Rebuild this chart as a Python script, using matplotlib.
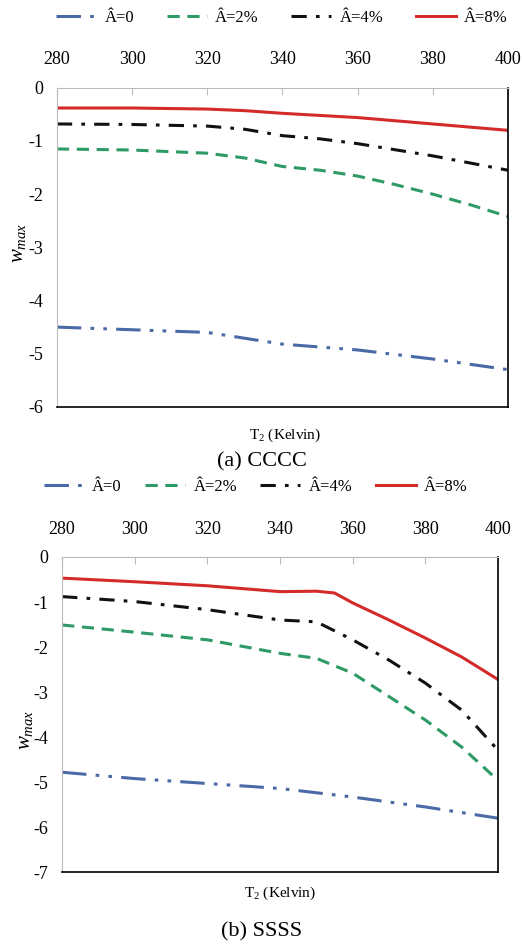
import numpy as np
import matplotlib
matplotlib.use("Agg")
import matplotlib.pyplot as plt

plt.rcParams['font.family'] = ['Liberation Serif', 'DejaVu Serif']
plt.rcParams['axes.unicode_minus'] = False
plt.rcParams['mathtext.fontset'] = 'custom'
plt.rcParams['mathtext.it'] = 'Liberation Serif:italic'
plt.rcParams['mathtext.rm'] = 'Liberation Serif'

labels = ["Â=0", "Â=2%", "Â=4%", "Â=8%"]

# (a) CCCC
a_T0 = [280, 300, 320, 340, 360, 380, 400]
a_w0 = [-4.50, -4.55, -4.60, -4.82, -4.93, -5.10, -5.30]
a_T2 = [280, 300, 320, 330, 340, 350, 360, 370, 380, 390, 400]
a_w2 = [-1.15, -1.17, -1.23, -1.32, -1.48, -1.55, -1.66, -1.82, -2.00, -2.20, -2.42]
a_T4 = [280, 300, 320, 330, 340, 350, 360, 380, 400]
a_w4 = [-0.68, -0.69, -0.72, -0.78, -0.90, -0.96, -1.05, -1.28, -1.55]
a_T8 = [280, 300, 320, 330, 340, 360, 380, 400]
a_w8 = [-0.38, -0.38, -0.40, -0.43, -0.48, -0.56, -0.68, -0.80]

# (b) SSSS
b_T0 = [280, 300, 320, 340, 360, 380, 400]
b_w0 = [-4.78, -4.92, -5.03, -5.14, -5.33, -5.55, -5.80]
b_T2 = [280, 300, 320, 340, 350, 360, 370, 380, 390, 400]
b_w2 = [-1.51, -1.67, -1.84, -2.14, -2.25, -2.58, -3.10, -3.62, -4.22, -4.96]
b_T4 = [280, 300, 320, 340, 350, 360, 370, 380, 390, 400]
b_w4 = [-0.88, -0.99, -1.17, -1.40, -1.44, -1.84, -2.29, -2.80, -3.40, -4.29]
b_T8 = [280, 300, 320, 340, 350, 355, 360, 370, 380, 390, 400]
b_w8 = [-0.47, -0.55, -0.64, -0.77, -0.76, -0.80, -1.02, -1.40, -1.80, -2.22, -2.72]

colors = ["#4a6aa5", "#2e9a66", "#111111", "#d42a2a"]
styles = [(0, (8, 3, 1.2, 3, 1.2, 3)), (0, (4, 2.5)), (0, (5, 3, 1.2, 3)), "-"]

fig = plt.figure(figsize=(5.22, 9.44), dpi=100)
ax1 = fig.add_axes([0.109, 0.569, 0.864, 0.338])
ax2 = fig.add_axes([0.119, 0.076, 0.835, 0.334])


def draw(ax, data, ymin):
    for (T, w), c, ls, lab in zip(data, colors, styles, labels):
        ax.plot(T, w, color=c, linestyle=ls, linewidth=2.2, label=lab)
    ax.set_xlim(280, 400)
    ax.set_ylim(ymin, 0)
    ax.set_xticks(np.arange(280, 401, 20))
    ax.set_yticks(np.arange(ymin, 1, 1))
    ax.xaxis.tick_top()
    ax.tick_params(axis='x', direction='in', length=5, color='#bbbbbb',
                   labelsize=13, pad=14)
    ax.tick_params(axis='y', length=0, labelsize=13, pad=10)
    ax.spines['top'].set_color('#bbbbbb')
    ax.spines['left'].set_color('#bbbbbb')
    ax.spines['right'].set_color('black')
    ax.spines['bottom'].set_color('black')
    ax.spines['right'].set_linewidth(1.2)
    ax.spines['bottom'].set_linewidth(1.2)


draw(ax1, [(a_T0, a_w0), (a_T2, a_w2), (a_T4, a_w4), (a_T8, a_w8)], -6)
draw(ax2, [(b_T0, b_w0), (b_T2, b_w2), (b_T4, b_w4), (b_T8, b_w8)], -7)

ax1.legend(loc='center', bbox_to_anchor=(0.54, 0.981), bbox_transform=fig.transFigure,
           ncol=4, frameon=False, fontsize=12, handlelength=2.4, columnspacing=1.95,
           handletextpad=0.5)
ax2.legend(loc='center', bbox_to_anchor=(0.49, 0.484), bbox_transform=fig.transFigure,
           ncol=4, frameon=False, fontsize=12, handlelength=2.4, columnspacing=1.4,
           handletextpad=0.5)

fig.text(0.035, 0.743, r'$w_{max}$', rotation=90, ha='center', va='center', fontsize=15)
fig.text(0.048, 0.227, r'$w_{max}$', rotation=90, ha='center', va='center', fontsize=15)
fig.text(0.546, 0.539, r'T$_2$ (Kelvin)', ha='center', va='center', fontsize=11)
fig.text(0.536, 0.054, r'T$_2$ (Kelvin)', ha='center', va='center', fontsize=11)
fig.text(0.502, 0.511, '(a) CCCC', ha='center', va='center', fontsize=16)
fig.text(0.502, 0.0127, '(b) SSSS', ha='center', va='center', fontsize=16)

fig.savefig("out.png", dpi=100)
